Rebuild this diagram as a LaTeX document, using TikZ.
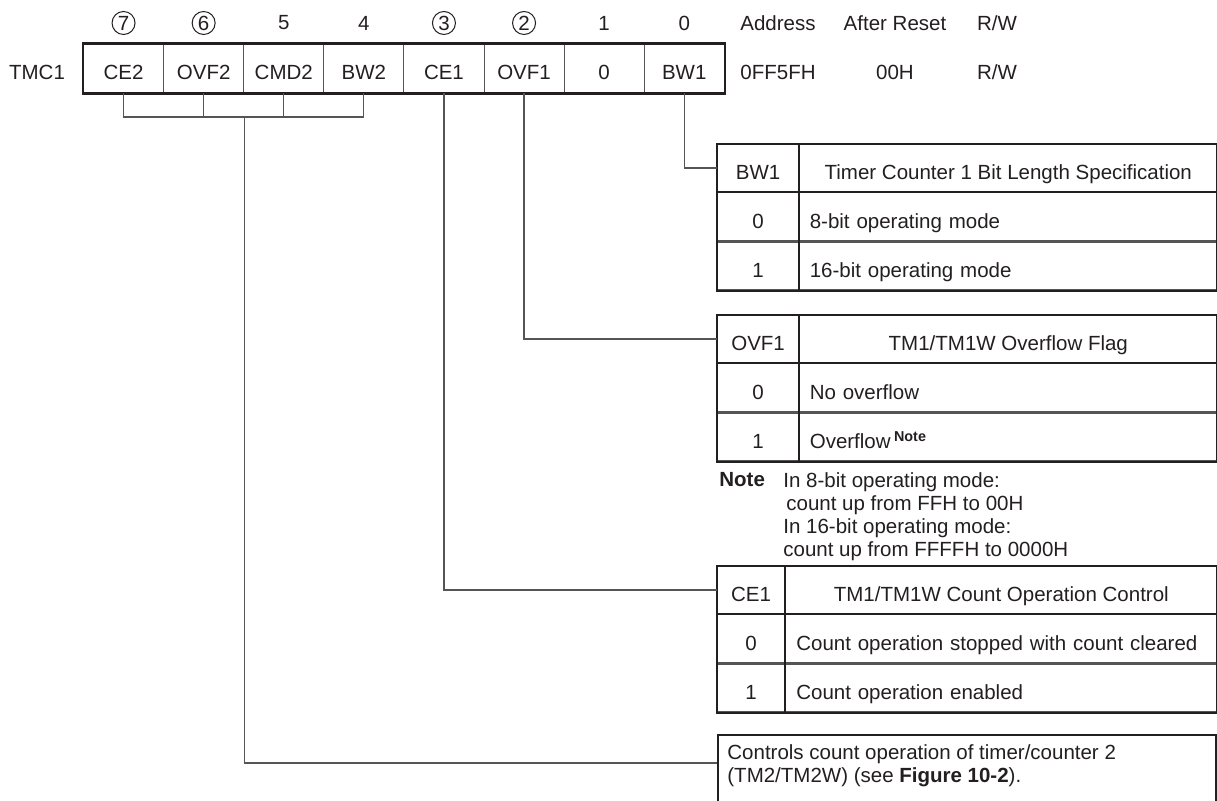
\documentclass[tikz,border=0pt]{standalone}
\usepackage{fontspec}
\setmainfont{Liberation Sans}
\definecolor{ink}{HTML}{231F20}
\definecolor{linegray}{HTML}{555555}
\tikzset{
txt/.style={font=\fontsize{10.25}{11.5}\selectfont, text=ink, inner sep=0pt},
bitcell/.style={txt, draw=linegray, line width=0.5pt, minimum width=40.05pt, minimum height=24.5pt, text height=11.5pt, text depth=0pt},
circbit/.style={txt, circle, draw=ink, line width=0.5pt, minimum size=11.5pt},
regframe/.style={draw=ink, line width=1.3pt},
cell/.style={txt, draw=linegray, line width=0.6pt, anchor=north west, text height=11.5pt, text depth=0pt},
headrow/.style={minimum height=23.5pt},
bodyrow/.style={minimum height=24pt},
tabframe/.style={draw=ink, line width=1pt},
conn/.style={draw=linegray, line width=0.6pt}
}
\begin{document}
\begin{tikzpicture}[x=0.5pt,y=-0.5pt]
\useasboundingbox (0,0) rectangle (1217,801);
\clip (0,0) rectangle (1217,801);
\foreach \n/\t [count=\k from 0] in {7/CE2,6/OVF2,5/CMD2,4/BW2,3/CE1,2/OVF1,1/0,0/BW1}
\node[bitcell] (cell\n) at ({123.55+80.1*\k},68.5) {\t};
\draw[regframe] (cell7.north west) rectangle (cell0.south east);
\foreach \n in {7,6,3,2}
\node[circbit] (bit\n) at (cell\n |- 0,23) {\n};
\foreach \n in {5,4,1,0}
\node[txt] (bit\n) at (cell\n |- 0,23) {\n};
\node[txt] (regname) at (37,72) {TMC1};
\node[txt] (addrhd) at (778,23) {Address};
\node[txt] (resethd) at (895,23) {After Reset};
\node[txt] (rwhd) at (997,23) {R/W};
\node[txt] (addr) at (778,72) {0FF5FH};
\node[txt] (reset) at (895,72) {00H};
\node[txt] (rw) at (997,72) {R/W};
% BW1 table
\node[cell, headrow, minimum width=40.5pt] (bwkey) at (717,144) {BW1};
\node[cell, headrow, minimum width=208.5pt] (bwhead) at (bwkey.north east) {Timer Counter 1 Bit Length Specification};
\node[cell, bodyrow, minimum width=40.5pt] (bwk0) at (bwkey.south west) {0};
\node[cell, bodyrow, text width=198.5pt, inner xsep=5pt, align=left] (bwd0) at (bwk0.north east) {8-bit operating mode};
\node[cell, bodyrow, minimum width=40.5pt] (bwk1) at (bwk0.south west) {1};
\node[cell, bodyrow, text width=198.5pt, inner xsep=5pt, align=left] (bwd1) at (bwk1.north east) {16-bit operating mode};
\draw[tabframe] (bwkey.north west) rectangle (bwd1.south east);
\draw[tabframe] (bwkey.north east) -- (bwk1.south east);
\draw[tabframe] (bwkey.south west) -- (bwhead.south east);
% OVF1 table
\node[cell, headrow, minimum width=40.5pt] (ovkey) at (717,315) {OVF1};
\node[cell, headrow, minimum width=208.5pt] (ovhead) at (ovkey.north east) {TM1/TM1W Overflow Flag};
\node[cell, bodyrow, minimum width=40.5pt] (ovk0) at (ovkey.south west) {0};
\node[cell, bodyrow, text width=198.5pt, inner xsep=5pt, align=left] (ovd0) at (ovk0.north east) {No overflow};
\node[cell, bodyrow, minimum width=40.5pt] (ovk1) at (ovk0.south west) {1};
\node[cell, bodyrow, text width=198.5pt, inner xsep=5pt, align=left] (ovd1) at (ovk1.north east) {Overflow\,\textsuperscript{\textbf{Note}}};
\draw[tabframe] (ovkey.north west) rectangle (ovd1.south east);
\draw[tabframe] (ovkey.north east) -- (ovk1.south east);
\draw[tabframe] (ovkey.south west) -- (ovhead.south east);
\node[txt, anchor=north west] (notetag) at (719,472) {\bfseries Note};
\node[txt, anchor=north west, align=left] (notebody) at (783,472) {In 8-bit operating mode:\\\hspace*{1.5pt}count up from FFH to 00H\\In 16-bit operating mode:\\count up from FFFFH to 0000H};
% CE1 table
\node[cell, headrow, minimum width=33.5pt] (cekey) at (717,566) {CE1};
\node[cell, headrow, minimum width=215.5pt] (cehead) at (cekey.north east) {TM1/TM1W Count Operation Control};
\node[cell, bodyrow, minimum width=33.5pt] (cek0) at (cekey.south west) {0};
\node[cell, bodyrow, text width=205pt, inner xsep=5.25pt, align=left] (ced0) at (cek0.north east) {Count operation stopped with count cleared};
\node[cell, bodyrow, minimum width=33.5pt] (cek1) at (cek0.south west) {1};
\node[cell, bodyrow, text width=205pt, inner xsep=5.25pt, align=left] (ced1) at (cek1.north east) {Count operation enabled};
\draw[tabframe] (cekey.north west) rectangle (ced1.south east);
\draw[tabframe] (cekey.north east) -- (cek1.south east);
\draw[tabframe] (cekey.south west) -- (cehead.south east);
% timer/counter 2 box
\node[tabframe, anchor=north west, minimum width=249pt, minimum height=45pt] (tm2box) at (717,734) {};
\node[txt, anchor=north west, align=left] (tm2txt) at (727,744) {Controls count operation of timer/counter 2\\(TM2/TM2W) (see \textbf{Figure 10-2}).};
\coordinate (tm2in) at (tm2box.north west |- 0,763);
% connectors
\coordinate (tap) at (cell6.south east |- 0,117);
\draw[conn] (cell7.south) |- (tap) -| (cell4.south);
\draw[conn] (cell6.south) -- (cell6 |- tap);
\draw[conn] (cell5.south) -- (cell5 |- tap);
\draw[conn] (tap) |- (tm2in);
\draw[conn] (cell3.south) |- (cekey.west);
\draw[conn] (cell2.south) |- (ovkey.west);
\draw[conn] (cell0.south) |- (bwkey.west);
\end{tikzpicture}
\end{document}
